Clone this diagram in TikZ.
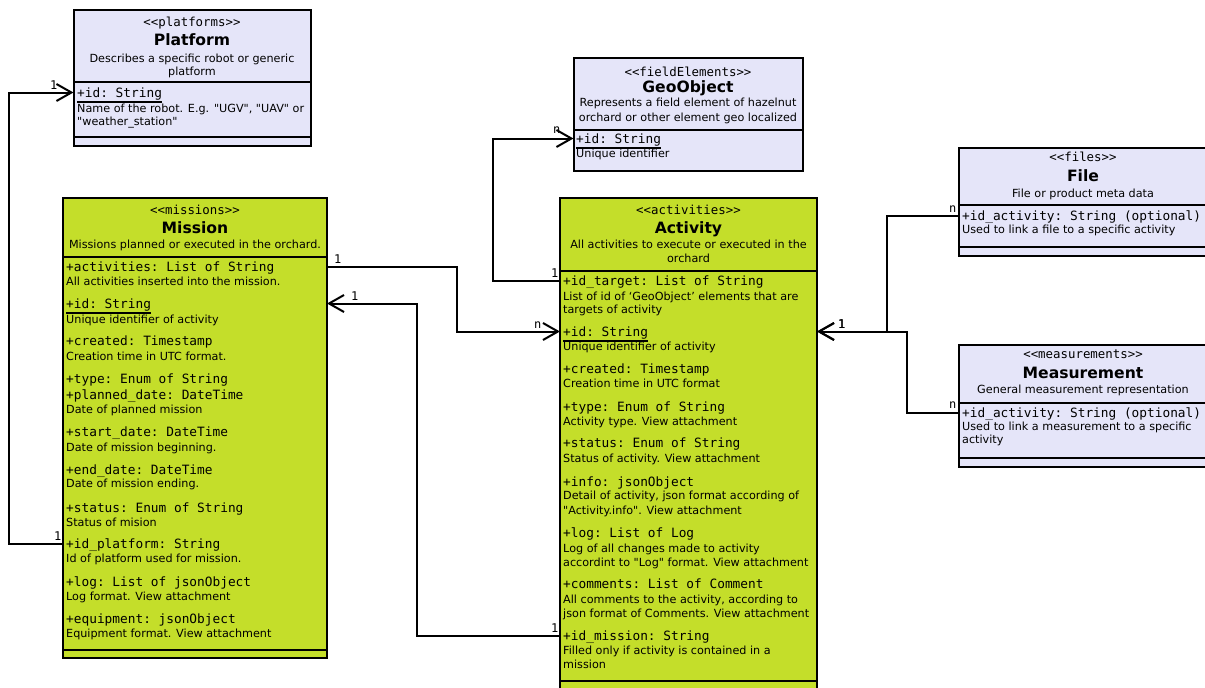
\documentclass[tikz,border=0pt]{standalone}
\usepackage{fontspec}
\setmainfont{DejaVu Sans}
\setmonofont{DejaVu Sans Mono}
% plain family without TeX ligature mapping, so " stays a straight quote
\newfontfamily\plainsans{DejaVu Sans}
\usetikzlibrary{arrows.meta}
\definecolor{classlav}{RGB}{229,229,249}
\definecolor{classgreen}{RGB}{196,222,42}

\tikzset{
  umlbox/.style={draw=black, line width=2pt, anchor=north west, inner sep=0pt, outer sep=0pt},
  lavbox/.style={umlbox, fill=classlav},
  greenbox/.style={umlbox, fill=classgreen},
  sepline/.style={line width=2pt},
  stereo/.style={font=\fontsize{12.4}{14}\ttfamily, anchor=base, inner sep=0pt},
  cname/.style={font=\fontsize{15.6}{18}\bfseries, anchor=base, inner sep=0pt},
  cnote/.style={font=\fontsize{11.2}{13}\plainsans, anchor=base, inner sep=0pt},
  field/.style={font=\fontsize{12.8}{15}\ttfamily, anchor=base west, inner sep=0pt, text height=9pt, text depth=0pt},
  fnote/.style={font=\fontsize{11.2}{13}\plainsans, anchor=base west, inner sep=0pt},
  mult/.style={font=\fontsize{12}{14}\ttfamily, anchor=base west, inner sep=0pt},
  assoc/.style={line width=2pt, -{Straight Barb[length=15pt,width=17pt,line width=2pt]}},
  pkline/.style={line width=2pt},
}

\begin{document}
\begin{tikzpicture}[x=1pt, y=-1pt]
\useasboundingbox (0,0) rectangle (1205,688);
\clip (0,0) rectangle (1205,688);
\fill[white] (0,0) rectangle (1205,688);

% ---------- class boxes ----------
\node[lavbox, minimum width=237.5pt, minimum height=135.5pt] (platform) at (73.5,10) {};
\draw[sepline] (73.5,82) -- (311,82);
\draw[sepline] (73.5,137) -- (311,137);

\node[lavbox, minimum width=229pt, minimum height=113pt] (geo) at (573.5,57.5) {};
\draw[sepline] (573.5,130) -- (802.5,130);

\node[lavbox, minimum width=250.5pt, minimum height=107.5pt] (file) at (958.5,148) {};
\draw[sepline] (958.5,205) -- (1209,205);
\draw[sepline] (958.5,247) -- (1209,247);

\node[lavbox, minimum width=250.5pt, minimum height=121.5pt] (meas) at (958.5,345) {};
\draw[sepline] (958.5,403) -- (1209,403);
\draw[sepline] (958.5,458) -- (1209,458);

\node[greenbox, minimum width=264.5pt, minimum height=459.5pt] (mission) at (62.5,198) {};
\draw[sepline] (62.5,257) -- (327,257);
\draw[sepline] (62.5,650) -- (327,650);

\node[greenbox, minimum width=257pt, minimum height=512pt] (activity) at (560,198) {};
\draw[sepline] (560,271) -- (817,271);
\draw[sepline] (560,681) -- (817,681);

% ---------- Platform ----------
\node[stereo] (pst) at (192,27) {<<platforms>>};
\node[cname] (pnm) at (192,45) {Platform};
\node[cnote] (pd1) at (192,62) {Describes a specific robot or generic};
\node[cnote] (pd2) at (192,75) {platform};
\node[field] (pid) at (77,97) {+id: String};
\draw[pkline] ([yshift=-5pt]pid.base west) -- ([yshift=-5pt]pid.base east);
\node[fnote] (pidn1) at (77,112) {Name of the robot. E.g. "UGV", "UAV" or};
\node[fnote] (pidn2) at (77,125) {"weather\_station"};

% ---------- GeoObject ----------
\node[stereo] (gst) at (688,76) {<<fieldElements>>};
\node[cname] (gnm) at (688,92) {GeoObject};
\node[cnote] (gd1) at (688,106) {Represents a field element of hazelnut};
\node[cnote] (gd2) at (688,121) {orchard or other element geo localized};
\node[field] (gid) at (576,143) {+id: String};
\draw[pkline] ([yshift=-5pt]gid.base west) -- ([yshift=-5pt]gid.base east);
\node[fnote] (gidn) at (576,157) {Unique identifier};

% ---------- File ----------
\node[stereo] (fst) at (1083,161) {<<files>>};
\node[cname] (fnm) at (1083,181) {File};
\node[cnote] (fd1) at (1083,197) {File or product meta data};
\node[field] (fact) at (962,220) {+id\_activity: String (optional)};
\node[fnote] (factn) at (962,233) {Used to link a file to a specific activity};

% ---------- Measurement ----------
\node[stereo] (mst) at (1083,358) {<<measurements>>};
\node[cname] (mnm) at (1083,378) {Measurement};
\node[cnote] (md1) at (1083,393) {General measurement representation};
\node[field] (mact2) at (962,417) {+id\_activity: String (optional)};
\node[fnote] (mact2n1) at (962,430) {Used to link a measurement to a specific};
\node[fnote] (mact2n2) at (962,443) {activity};

% ---------- Mission ----------
\node[stereo] (sst) at (195,214) {<<missions>>};
\node[cname] (snm) at (195,233) {Mission};
\node[cnote] (sd1) at (195,248) {Missions planned or executed in the orchard.};
\node[field] (mact) at (66,271) {+activities: List of String};
\node[fnote] (mactn) at (66,285) {All activities inserted into the mission.};
\node[field] (mid) at (66,308) {+id: String};
\draw[pkline] ([yshift=-5pt]mid.base west) -- ([yshift=-5pt]mid.base east);
\node[fnote] (midn) at (66,323) {Unique identifier of activity};
\node[field] (mcre) at (66,345) {+created: Timestamp};
\node[fnote] (mcren) at (66,360) {Creation time in UTC format.};
\node[field] (mtyp) at (66,383) {+type: Enum of String};
\node[field] (mpla) at (66,399) {+planned\_date: DateTime};
\node[fnote] (mplan) at (66,413) {Date of planned mission};
\node[field] (msta) at (66,436) {+start\_date: DateTime};
\node[fnote] (mstan) at (66,451) {Date of mission beginning.};
\node[field] (mend) at (66,474) {+end\_date: DateTime};
\node[fnote] (mendn) at (66,487) {Date of mission ending.};
\node[field] (mstat) at (66,512) {+status: Enum of String};
\node[fnote] (mstatn) at (66,526) {Status of mision};
\node[field] (mplat) at (66,548) {+id\_platform: String};
\node[fnote] (mplatn) at (66,562) {Id of platform used for mission.};
\node[field] (mlog) at (66,586) {+log: List of jsonObject};
\node[fnote] (mlogn) at (66,600) {Log format. View attachment};
\node[field] (mequ) at (66,623) {+equipment: jsonObject};
\node[fnote] (mequn) at (66,637) {Equipment format. View attachment};

% ---------- Activity ----------
\node[stereo] (ast) at (688.5,214) {<<activities>>};
\node[cname] (anm) at (688.5,233) {Activity};
\node[cnote] (ad1) at (688.5,248) {All activities to execute or executed in the};
\node[cnote] (ad2) at (688.5,262) {orchard};
\node[field] (atgt) at (563,285) {+id\_target: List of String};
\node[fnote] (atgtn1) at (563,300) {List of id of ‘GeoObject’ elements that are};
\node[fnote] (atgtn2) at (563,313) {targets of activity};
\node[field] (aid) at (563,336) {+id: String};
\draw[pkline] ([yshift=-5pt]aid.base west) -- ([yshift=-5pt]aid.base east);
\node[fnote] (aidn) at (563,350) {Unique identifier of activity};
\node[field] (acre) at (563,373) {+created: Timestamp};
\node[fnote] (acren) at (563,387) {Creation time in UTC format};
\node[field] (atyp) at (563,411) {+type: Enum of String};
\node[fnote] (atypn) at (563,425) {Activity type. View attachment};
\node[field] (asta) at (563,447) {+status: Enum of String};
\node[fnote] (astan) at (563,462) {Status of activity. View attachment};
\node[field] (ainf) at (563,486) {+info: jsonObject};
\node[fnote] (ainfn1) at (563,499) {Detail of activity, json format according of};
\node[fnote] (ainfn2) at (563,514) {"Activity.info". View attachment};
\node[field] (alog) at (563,537) {+log: List of Log};
\node[fnote] (alogn1) at (563,552) {Log of all changes made to activity};
\node[fnote] (alogn2) at (563,566) {accordint to "Log" format. View attachment};
\node[field] (acom) at (563,588) {+comments: List of Comment};
\node[fnote] (acomn1) at (563,603) {All comments to the activity, according to};
\node[fnote] (acomn2) at (563,617) {json format of Comments. View attachment};
\node[field] (amis) at (563,640) {+id\_mission: String};
\node[fnote] (amisn1) at (563,654) {Filled only if activity is contained in a};
\node[fnote] (amisn2) at (563,668) {mission};

% ---------- associations ----------
\draw[assoc] (mission.west |- mplat) -- ++(-53.5,0) |- (platform.west |- pid);
\draw[assoc] (mission.east |- mact) -- ++(129.5,0) |- (activity.west |- aid);
\draw[assoc] (activity.west |- amis) -- ++(-143,0) |- (mission.east |- mid);
\draw[assoc] (activity.west |- atgt) -- ++(-67,0) |- (geo.west |- gid);
\draw[assoc] (file.west |- fact) -- ++(-71.5,0) |- (activity.east |- aid);
\draw[assoc] (meas.west |- mact2) -- ++(-51.5,0) |- (activity.east |- aid);

% ---------- multiplicities ----------
\node[mult] (m1a) at (50,89) {1};
\node[mult] (m1b) at (54,540) {1};
\node[mult] (m2a) at (334,263) {1};
\node[mult] (m2b) at (534,328) {n};
\node[mult] (m3a) at (351,300) {1};
\node[mult] (m3b) at (551,632) {1};
\node[mult] (m4a) at (551,277) {1};
\node[mult] (m4b) at (553,133) {n};
\node[mult] (m5a) at (949,212) {n};
\node[mult] (m5b) at (838,328) {1};
\node[mult] (m6a) at (949,408) {n};
\node[mult] (m6b) at (838,328) {1};
\end{tikzpicture}
\end{document}
